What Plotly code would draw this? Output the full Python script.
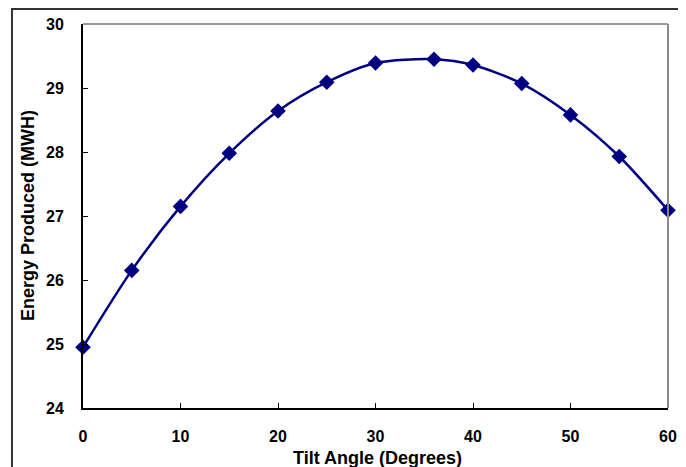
import plotly.graph_objects as go

tilt_angle = [0, 5, 10, 15, 20, 25, 30, 36, 40, 45, 50, 55, 60]
energy_mwh = [24.95, 26.15, 27.15, 27.98, 28.64, 29.09, 29.39, 29.45, 29.36, 29.07, 28.58, 27.93, 27.09]
x_ticks = [0, 10, 20, 30, 40, 50, 60]
y_ticks = [24, 25, 26, 27, 28, 29, 30]

NAVY = "#000080"
FONT = "Liberation Sans, Arial, sans-serif"

fig = go.Figure()
fig.add_trace(go.Scatter(
    x=tilt_angle, y=energy_mwh, mode="lines+markers",
    line=dict(color=NAVY, width=2.5, shape="spline", smoothing=0.8),
    marker=dict(symbol="diamond", size=12, color=NAVY),
    cliponaxis=False, showlegend=False,
))

# page body has an 8px margin, so the figure is 8px smaller than the window
fig.update_layout(
    width=678, height=459,
    margin=dict(l=75, r=18, t=16, b=59, autoexpand=False),
    paper_bgcolor="white", plot_bgcolor="white",
    font=dict(family=FONT, color="black"),
    xaxis=dict(
        range=[0, 60], tickvals=x_ticks, showgrid=False, zeroline=False,
        showline=True, linecolor="black", linewidth=2,
        ticks="inside", ticklen=5, tickcolor="black", tickwidth=1,
        tickfont=dict(size=16, family=FONT, weight="bold"),
        ticklabelstandoff=13, automargin=False,
    ),
    yaxis=dict(
        range=[24, 30], tickvals=y_ticks, showgrid=False, zeroline=False,
        showline=True, linecolor="black", linewidth=2,
        ticks="inside", ticklen=5, tickcolor="black", tickwidth=1,
        tickfont=dict(size=16, family=FONT, weight="bold"),
        ticklabelstandoff=14, automargin=False,
    ),
    annotations=[
        dict(text="<b>Tilt Angle (Degrees)</b>", xref="paper", yref="paper",
             x=0.504, y=-0.131, xanchor="center", yanchor="middle",
             showarrow=False, font=dict(size=18, family=FONT, color="black")),
        dict(text="<b>Energy Produced (MWH)</b>", xref="paper", yref="paper",
             x=-0.094, y=0.5, xanchor="center", yanchor="middle", textangle=-90,
             showarrow=False, font=dict(size=18, family=FONT, color="black")),
    ],
    shapes=[
        dict(type="line", xref="paper", yref="paper", x0=0, x1=1, y0=1, y1=1,
             line=dict(color="#333333", width=1)),
        dict(type="line", xref="paper", yref="paper", x0=1, x1=1, y0=0, y1=1,
             line=dict(color="#888888", width=2)),
        dict(type="rect", xref="paper", yref="paper", x0=-0.1214, x1=1.0256, y0=-0.17, y1=1.039,
             line=dict(color="#333333", width=2), fillcolor="rgba(0,0,0,0)", layer="below"),
    ],
)

fig.write_html("out.html")
